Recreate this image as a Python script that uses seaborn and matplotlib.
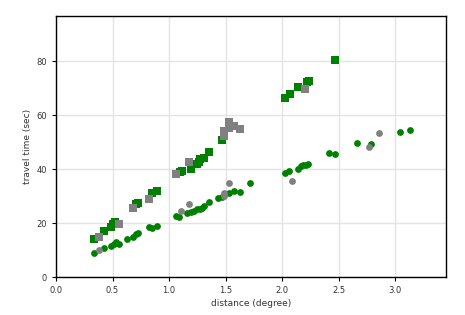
import matplotlib
matplotlib.use("Agg")
import matplotlib.pyplot as plt
import seaborn as sns
import pandas as pd

# S-wave picks (squares)
s_green_dist = [0.332, 0.429, 0.485, 0.506, 0.524, 0.712, 0.726, 0.853, 0.894, 1.094, 1.112,
                1.194, 1.247, 1.265, 1.271, 1.306, 1.353, 1.471, 2.029, 2.071, 2.141, 2.224,
                2.235, 2.471]
s_green_time = [13.95, 17.0, 18.4, 19.6, 20.4, 27.0, 27.4, 31.0, 31.7, 38.9, 39.4,
                40.2, 41.7, 42.5, 43.6, 44.1, 46.4, 50.7, 66.5, 68.0, 70.5, 72.2,
                72.5, 80.6]
s_gray_dist = [0.382, 0.559, 0.682, 0.824, 1.065, 1.176, 1.482, 1.482, 1.529, 1.529, 1.576, 1.624, 2.206]
s_gray_time = [14.9, 19.5, 25.4, 28.8, 38.0, 42.5, 54.2, 52.2, 57.3, 55.4, 55.9, 54.8, 69.5]

# P-wave picks (circles)
p_green_dist = [0.332, 0.426, 0.488, 0.512, 0.529, 0.553, 0.624, 0.682, 0.706, 0.724, 0.824,
                0.853, 0.894, 1.065, 1.088, 1.159, 1.194, 1.218, 1.247, 1.271, 1.294, 1.312,
                1.353, 1.435, 1.471, 1.529, 1.576, 1.624, 1.712, 2.029, 2.065, 2.141, 2.171,
                2.188, 2.212, 2.229, 2.412, 2.471, 2.659, 2.788, 3.041, 3.135]
p_green_time = [8.8, 10.7, 11.6, 12.3, 12.8, 12.3, 14.0, 14.9, 16.0, 16.2, 18.4,
                18.0, 18.9, 22.6, 22.1, 23.6, 24.0, 24.4, 25.1, 25.3, 25.7, 26.3,
                27.8, 29.1, 29.6, 31.0, 31.7, 31.4, 34.7, 38.4, 39.1, 39.9, 41.1,
                41.6, 41.4, 41.7, 45.8, 45.4, 49.5, 49.3, 53.6, 54.4]
p_gray_dist = [0.382, 1.106, 1.176, 1.482, 1.482, 1.529, 2.085, 2.765, 2.859]
p_gray_time = [9.9, 24.4, 27.0, 31.2, 30.0, 34.7, 35.4, 48.1, 53.2]

sns.set_style("white")
fig = plt.figure(figsize=(4.65, 3.15), dpi=100)
ax = fig.add_axes([0.1204, 0.1206, 0.8386, 0.8286])

def draw(d, t, color, marker, size):
    df = pd.DataFrame({"distance": d, "time": t})
    sns.scatterplot(data=df, x="distance", y="time", color=color, marker=marker,
                    s=size, linewidth=0, ax=ax, zorder=3)

draw(s_green_dist, s_green_time, "green", "s", 28)
draw(p_green_dist, p_green_time, "green", "o", 24)
draw(s_gray_dist, s_gray_time, "gray", "s", 28)
draw(p_gray_dist, p_gray_time, "gray", "o", 24)

xmax = max(p_green_dist) * 1.1
ymax = max(s_green_time) * 1.2
ax.set_xlim(0, xmax)
ax.set_ylim(0, ymax)
ax.set_xticks([0.0, 0.5, 1.0, 1.5, 2.0, 2.5, 3.0])
ax.set_yticks([0, 20, 40, 60, 80])
ax.grid(True, color="#e3e3e3", linewidth=1.0, zorder=0)
ax.set_axisbelow(True)
for sp in ax.spines.values():
    sp.set_color("black")
    sp.set_linewidth(1.0)
ax.tick_params(axis="both", labelsize=6, colors="#333333", length=3, width=0.8,
               direction="out", bottom=True, left=True)
ax.tick_params(axis="both", color="black")
ax.set_xlabel("distance (degree)", fontsize=6.5, color="#333333", labelpad=3)
ax.set_ylabel("travel time (sec)", fontsize=6.5, color="#333333", labelpad=3)

fig.savefig("out.png", dpi=100)
